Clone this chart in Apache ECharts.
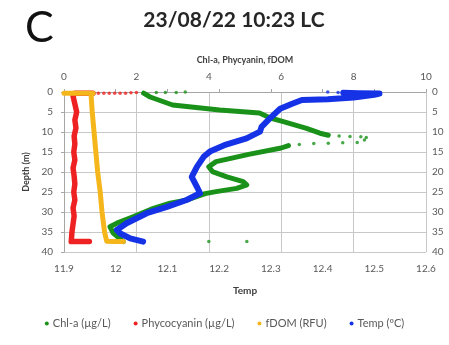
<!DOCTYPE html>
<html>
<head>
<meta charset="utf-8">
<script src="https://cdn.jsdelivr.net/npm/echarts@6/dist/echarts.min.js"></script>
<style>
  html, body { margin: 0; padding: 0; background: #fff; }
  #chart { width: 449px; height: 345px; }
</style>
</head>
<body>
<div id="chart"></div>
<script>
// series names
const names = ['Chl-a (µg/L)', 'Phycocyanin (µg/L)', 'fDOM (RFU)', 'Temp (ºC)'];
const colors = ['#1a921a', '#ee2222', '#f5b61c', '#1532e6'];

// [value, depth] — top axis (0-10)
const chlA = [[2.2,0.3],[2.38,1.25],[3.0,3.25],[4.3,4.5],[5.4,5.25],[5.7,6.5],[6.06,7.4],[6.7,9.1],[7.07,10.3],
  [7.3,10.8]];
const chlA2 = [[6.2,13.4],[6.0,14],[5.1,15.6],[4.7,16.4],[4.2,17.4],[4.0,18.7],[4.1,19.9],[4.5,21.2],[4.95,22.4],
  [5.05,23.2],[4.77,24.1],[4.2,24.9],[3.9,25.4],[3.4,27],[2.93,27.8],[2.47,29.1],[1.91,31.2],[1.46,32.8],[1.27,33.7],
  [1.36,35.3],[1.64,37.4]];
const chlASparse = [[2.55,0.1],[2.8,0.1],[3.1,0.1],[3.35,0],[7.6,11],[7.9,11.1],[8.2,11.2],[8.35,11.4],[8.3,12],
  [8.1,12.6],[7.7,12.7],[7.3,12.8],[6.9,12.9],[6.5,13.1],[4.0,37.4],[5.05,37.4]];
const phyco = [[0.8,0.3],[0.3,0.3],[0.25,1],[0.3,3],[0.35,5],[0.3,7],[0.33,9],
  [0.28,11],[0.3,13],[0.27,15],[0.3,17],[0.25,19],[0.28,21],[0.3,23],[0.27,25],[0.3,27],[0.25,29],[0.28,31],[0.25,33],
  [0.22,35],[0.2,37.4],[0.45,37.4],[0.7,37.4]];
const phycoSparse = [[0.95,0.3],[1.1,0.3],[1.25,0.3],[1.4,0.3],[1.55,0.3],[1.7,0.3],[1.85,0.2],[2.0,0.1]];
const fdom = [[0.0,0.3],[0.4,0.3],[0.8,0.3],[0.75,1],[0.78,5],[0.83,10],[0.88,15],[0.93,20],[1.0,25],[1.05,30],
  [1.12,35],[1.18,37.3],[1.4,37.4],[1.64,37.4]];
// [temp, depth] — bottom axis (11.9-12.6)
const temp = [[12.44,0.2],[12.47,0.3],[12.51,0.4],[12.5,0.7],[12.46,1.4],[12.41,1.8],[12.36,2.0],[12.34,3],
  [12.318,4.2],[12.298,6.6],[12.282,8.7],[12.279,9.9],[12.253,11.6],[12.21,13.3],[12.182,14.9],[12.17,16.2],
  [12.157,18.7],[12.147,21.2],[12.157,23.7],[12.163,25.3],[12.137,27],[12.099,28.7],[12.06,30.3],[12.021,32.8],
  [12.002,34.5],[12.008,35.3],[12.028,36.6],[12.053,37.4]];
const tempSparse = [[12.41,0],[12.43,0.1]];

const font = 'Lato';
const labelColor = '#595959';

function lineSeries(name, data, color, xi, w) {
  return {
    name: name, type: 'line', data: data, xAxisIndex: xi, yAxisIndex: 0,
    showSymbol: false, symbol: 'circle', color: color,
    lineStyle: { width: w || 5, color: color, join: 'round', cap: 'round' },
    animation: false
  };
}
function dotSeries(name, data, color, xi) {
  return {
    name: name, type: 'scatter', data: data, xAxisIndex: xi, yAxisIndex: 0,
    symbolSize: 3.5, itemStyle: { color: color }, animation: false
  };
}

const chart = echarts.init(document.getElementById('chart'));
chart.setOption({
  backgroundColor: '#fff',
  textStyle: { fontFamily: font },
  title: [
    { text: '23/08/22 10:23 LC', left: 229, top: 5, textAlign: 'center',
      textStyle: { fontFamily: font, fontSize: 21, fontWeight: 'bold', color: '#262626' } },
    { text: 'C', left: 20, top: 2, textStyle: { fontFamily: font, fontSize: 43, fontWeight: 'normal', color: '#111' } }
  ],
  legend: {
    data: names.map(n => ({ name: n, icon: 'circle' })),
    bottom: 11, left: 'center', itemWidth: 4, itemHeight: 4, itemGap: 23,
    textStyle: { fontFamily: font, fontSize: 11, color: labelColor, padding: [0, 0, 0, -1] }
  },
  grid: { left: 64, right: 23, top: 92, bottom: 93 },
  xAxis: [
    { type: 'value', position: 'top', min: 0, max: 10, interval: 2,
      name: 'Chl-a, Phycyanin, fDOM', nameLocation: 'middle', nameGap: 27,
      nameTextStyle: { fontFamily: font, fontSize: 9, fontWeight: 'bold', color: '#404040' },
      axisLine: { show: false }, axisTick: { show: false },
      axisLabel: { fontSize: 10, color: labelColor, margin: 10 },
      splitLine: { show: true, lineStyle: { color: '#c8c8c8', width: 1 } } },
    { type: 'value', position: 'bottom', min: 11.9, max: 12.6, interval: 0.1,
      name: 'Temp', nameLocation: 'middle', nameGap: 34,
      nameTextStyle: { fontFamily: font, fontSize: 10, fontWeight: 'bold', color: '#404040' },
      axisLine: { show: true, lineStyle: { color: '#a6a6a6' } },
      axisTick: { show: true, length: 3, inside: true, lineStyle: { color: '#a6a6a6' } },
      axisLabel: { fontSize: 10, color: labelColor, margin: 12,
        formatter: v => String(Math.round(v * 10) / 10) },
      splitLine: { show: false } }
  ],
  yAxis: [
    { type: 'value', inverse: true, min: 0, max: 40, interval: 5, position: 'left',
      name: 'Depth (m)', nameLocation: 'middle', nameGap: 31,
      nameTextStyle: { fontFamily: font, fontSize: 9, fontWeight: 'bold', color: '#404040' },
      axisLine: { show: true, lineStyle: { color: '#a6a6a6' } },
      axisTick: { show: true, length: 3, lineStyle: { color: '#a6a6a6' } },
      axisLabel: { fontSize: 10, color: labelColor, margin: 11 },
      splitLine: { show: true, lineStyle: { color: '#c8c8c8', width: 1 } } },
    { type: 'value', inverse: true, min: 0, max: 40, interval: 5, position: 'right',
      axisLine: { show: false }, axisTick: { show: false },
      axisLabel: { fontSize: 10, color: labelColor, margin: 6 },
      splitLine: { show: false } }
  ],
  series: [
    lineSeries(names[0], chlA, colors[0], 0),
    lineSeries(names[0], chlA2, colors[0], 0),
    dotSeries(names[0], chlASparse, colors[0], 0),
    lineSeries(names[1], phyco, colors[1], 0, 5.5),
    dotSeries(names[1], phycoSparse, colors[1], 0),
    lineSeries(names[2], fdom, colors[2], 0),
    lineSeries(names[3], temp, colors[3], 1, 6),
    dotSeries(names[3], tempSparse, colors[3], 1)
  ]
});
</script>
</body>
</html>
